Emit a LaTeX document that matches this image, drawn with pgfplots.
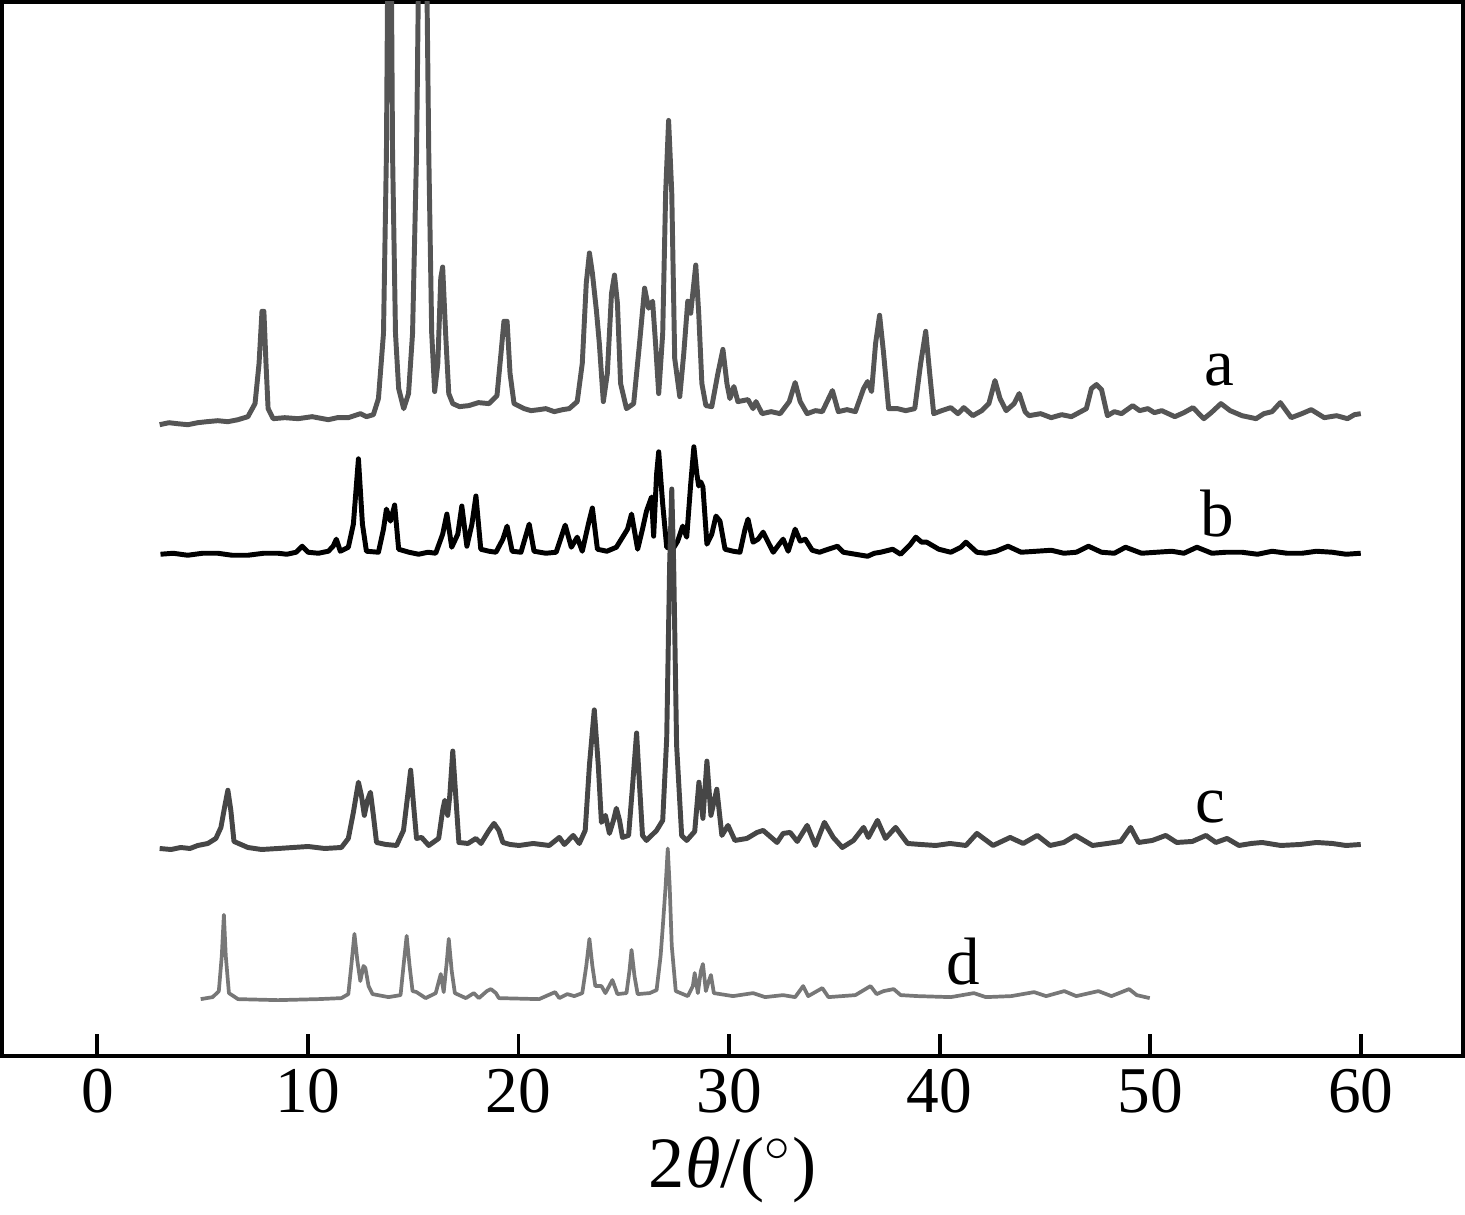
\documentclass[border=0pt]{standalone}
\usepackage{fontspec}
\setmainfont{Liberation Serif}
\usepackage{pgfplots}
\pgfplotsset{compat=1.18}
\definecolor{ca}{HTML}{555555}
\definecolor{cb}{HTML}{000000}
\definecolor{cc}{HTML}{464646}
\definecolor{cd}{HTML}{777777}

\begin{document}
\begin{tikzpicture}
\begin{axis}[
    width=14.55cm, height=10.5cm, scale only axis,
    xmin=-4.53, xmax=64.86, ymin=0, ymax=1050,
    xtick={0,10,...,60}, ytick=\empty,
    xtick pos=bottom, tick align=inside,
    major tick length=2.2mm,
    axis line style={line width=1.1pt},
    every tick/.style={black, line width=1.1pt},
    /pgf/number format/assume math mode=true,
    tick label style={font=\fontsize{18.5}{20}\selectfont},
    label style={font=\fontsize{20.5}{22}\selectfont},
    xlabel={2\textit{θ}/($^{\circ}$)},
    every axis plot/.append style={line join=round, mark=none},
]
% a
\addplot[ca, line width=1.4pt] coordinates {
(2.96,629)(3.4,631)(3.81,630)(4.3,629)(4.77,631)(5.2,632)(5.72,633)(6.2,632)(6.68,634)(7.15,637)(7.49,650)(7.68,690)
(7.82,742)(7.91,742)(8.01,690)(8.11,645)(8.35,635)(8.9,636)(9.54,635)(10.2,637)(10.97,634)(11.4,636)(11.92,636)
(12.49,640)(12.78,637)(13.11,639)(13.35,655)(13.59,720)(13.73,900)(13.88,1350)
(14.02,900)(14.16,720)(14.31,665)(14.55,645)(14.78,660)(14.97,720)(15.16,900)
(15.45,1450)(15.74,900)(15.88,720)(16.02,662)(16.17,690)(16.31,775)(16.40,786)
(16.54,720)(16.69,660)(16.88,650)(17.2,647)(17.64,648)(18.1,651)(18.60,650)(18.98,658)(19.17,700)
(19.31,732)(19.46,732)(19.60,680)(19.79,650)(20.27,645)(20.6,643)(20.98,644)(21.3,645)(21.70,642)
(22.1,644)(22.41,645)(22.79,652)(23.03,690)(23.22,770)(23.37,800)(23.51,780)(23.70,743)
(23.84,710)(24.03,652)(24.22,680)(24.42,760)(24.56,778)(24.70,750)(24.85,670)
(25.13,645)(25.47,650)(25.75,710)(25.99,765)(26.18,745)(26.37,752)(26.51,710)
(26.66,660)(26.85,720)(26.99,860)(27.13,932)(27.28,860)(27.42,695)(27.66,657)
(27.85,700)(28.04,752)(28.18,740)(28.28,760)(28.42,788)(28.56,740)(28.71,670)
(28.90,648)(29.18,647)(29.47,680)(29.71,704)(29.90,670)(30.04,655)(30.23,667)
(30.42,652)(30.90,654)(31.14,645)(31.28,652)(31.57,640)(32.0,642)(32.43,640)(32.86,652)
(33.14,671)(33.38,652)(33.71,640)(34.1,643)(34.43,642)(34.91,663)(35.19,642)(35.6,644)(36.00,642)
(36.39,665)(36.58,672)(36.77,662)(36.96,710)(37.15,738)(37.34,700)(37.58,645)
(38.0,645)(38.39,643)(38.82,645)(39.10,690)(39.34,722)(39.53,680)(39.72,640)(40.1,643)(40.53,646)
(40.87,640)(41.15,646)(41.58,638)(42.0,643)(42.34,650)(42.63,673)(42.87,655)(43.16,643)
(43.54,650)(43.78,660)(44.06,642)(44.25,638)(44.8,640)(45.30,636)(45.8,639)(46.26,637)(46.97,645)
(47.21,665)(47.45,669)(47.69,664)(47.97,638)(48.3,642)(48.64,640)(49.17,648)(49.5,643)(49.89,645)
(50.2,641)(50.55,643)(51.17,637)(51.6,641)(52.03,646)(52.55,635)(52.9,641)(53.36,650)(53.8,643)(54.36,638)(55.03,635)
(55.4,640)(55.79,642)(56.18,651)(56.70,636)(57.2,640)(57.65,644)(58.27,636)(58.85,638)(59.37,635)(59.7,639)
(60.00,640)
};
% b
\addplot[cb, line width=1.4pt] coordinates {
(3.00,500)(3.6,501)(4.29,499)(5.0,501)(5.72,501)(6.4,499)(7.15,499)(7.9,501)(8.58,501)(9.0,500)(9.44,502)(9.73,508)(10.01,502)
(10.5,501)(10.97,503)(11.20,508)(11.35,515)(11.54,503)(11.92,507)(12.16,530)(12.40,595)
(12.59,530)(12.78,503)(13.35,502)(13.59,525)(13.73,545)(13.92,533)(14.12,549)
(14.31,505)(14.8,502)(15.26,500)(15.7,502)(16.07,501)(16.40,520)(16.60,540)(16.83,507)(17.12,520)
(17.31,548)(17.55,508)(17.79,530)(17.98,558)(18.21,505)(18.6,503)(18.93,502)(19.26,515)
(19.46,528)(19.70,503)(20.12,502)(20.51,530)(20.74,503)(21.3,501)(21.79,502)(22.22,529)
(22.51,507)(22.79,517)(23.03,503)(23.32,530)(23.51,546)(23.75,505)(24.2,503)(24.65,507)
(25.18,525)(25.37,540)(25.66,505)(25.89,525)(26.08,543)(26.32,557)(26.42,518)
(26.56,580)(26.66,602)(26.85,550)(27.04,507)(27.33,505)(27.56,513)(27.80,528)
(27.99,517)(28.18,570)(28.33,607)(28.47,580)(28.56,568)(28.66,572)(28.76,567)
(28.95,510)(29.18,520)(29.38,538)(29.57,533)(29.81,505)(30.2,503)(30.52,502)(30.76,525)
(30.90,535)(31.14,512)(31.38,515)(31.62,522)(32.10,502)(32.38,510)(32.57,515)
(32.81,503)(33.14,525)(33.38,513)(33.62,515)(33.95,504)(34.3,502)(34.57,504)(35.15,508)
(35.43,502)(36.0,500)(36.58,498)(36.9,501)(37.20,502)(37.77,505)(38.15,500)(38.62,510)(38.87,517)
(39.15,512)(39.39,512)(39.96,505)(40.53,502)(41.01,507)(41.25,512)(41.77,502)
(42.2,501)(42.68,503)(43.25,508)(43.87,502)(44.6,503)(45.30,504)(45.9,501)(46.49,502)(47.07,508)(47.69,502)
(48.3,501)(48.83,507)(49.59,501)(50.3,502)(51.03,503)(51.6,501)(52.22,507)(52.93,501)(53.6,502)(54.36,502)(55.1,500)(55.79,503)
(56.5,501)(57.22,501)(57.9,503)(58.65,502)(59.3,500)(60.00,501)
};
% c
\addplot[cc, line width=1.4pt] coordinates {
(2.96,207)(3.5,206)(3.96,208)(4.4,207)(4.77,210)(5.25,212)(5.63,217)(5.87,228)(6.06,250)(6.20,265)
(6.34,245)(6.49,214)(7.15,208)(7.8,206)(8.58,207)(9.3,208)(10.01,209)(10.8,207)(11.59,208)(11.92,217)
(12.16,243)(12.40,273)(12.54,260)(12.68,240)(12.83,255)(12.97,263)(13.11,240)
(13.26,213)(13.7,211)(14.21,210)(14.54,225)(14.74,260)(14.88,285)(15.02,250)(15.16,217)
(15.40,218)(15.74,210)(16.21,217)(16.40,245)(16.50,255)(16.64,240)(16.74,260)
(16.88,304)(17.02,260)(17.17,213)(17.6,212)(17.98,217)(18.22,212)(18.60,225)(18.84,232)
(19.07,225)(19.26,213)(19.6,211)(20.03,210)(20.7,212)(21.46,210)(21.94,218)(22.18,211)(22.60,220)
(22.89,212)(23.17,225)(23.37,290)(23.60,345)(23.79,290)(23.94,233)(24.13,240)
(24.32,222)(24.51,235)(24.65,247)(24.80,235)(24.94,218)(25.23,220)(25.42,270)
(25.61,322)(25.75,270)(25.89,220)(26.08,215)(26.56,225)(26.85,235)(27.04,317)
(27.18,490)(27.28,565)(27.37,490)(27.51,310)(27.75,220)(27.99,215)(28.37,224)
(28.57,273)(28.76,237)(28.95,294)(29.14,240)(29.42,266)(29.66,220)(29.95,230)
(30.28,215)(30.85,217)(31.33,223)(31.62,225)(32.28,213)(32.57,222)(32.90,223)
(33.24,214)(33.71,230)(34.10,210)(34.53,233)(34.95,218)(35.38,208)(35.91,215)
(36.39,228)(36.62,218)(37.05,235)(37.43,217)(37.91,228)(38.48,212)(39.1,211)(39.82,210)
(40.5,212)(41.25,210)(41.77,222)(42.54,210)(43.35,218)(43.97,212)(44.64,220)(45.25,210)
(45.9,213)(46.45,220)(47.26,210)(47.97,212)(48.6,214)(49.07,228)(49.45,213)(50.1,215)(50.74,220)(51.26,213)
(52.0,214)(52.65,220)(53.12,213)(53.65,217)(54.22,210)(54.8,212)(55.32,213)(56.2,210)(57.13,211)(57.9,213)(58.65,212)(59.3,210)
(60.00,211)
};
% d
\addplot[cd, line width=1.05pt] coordinates {
(4.91,57)(5.48,59)(5.77,65)(5.91,100)(6.01,141)(6.10,100)(6.25,63)(6.68,57)
(8.58,56)(10.49,57)(11.59,58)(11.92,62)(12.06,90)(12.21,122)(12.35,95)(12.49,75)
(12.64,90)(12.73,88)(12.88,70)(13.07,62)(13.83,59)(14.40,61)(14.54,90)(14.69,120)
(14.83,90)(14.97,65)(15.16,64)(15.59,58)(16.07,63)(16.31,82)(16.45,64)(16.60,95)
(16.69,117)(16.83,85)(16.98,63)(17.50,58)(17.88,63)(18.12,58)(18.50,65)(18.69,67)
(18.93,63)(19.07,58)(20.98,57)(21.74,64)(21.94,58)(22.32,62)(22.65,60)(23.03,63)
(23.22,90)(23.37,117)(23.51,90)(23.65,70)(23.94,70)(24.13,63)(24.46,76)(24.70,62)
(25.13,63)(25.27,85)(25.37,106)(25.51,80)(25.66,62)(26.23,63)(26.56,66)(26.75,100)
(26.85,128)(26.99,170)(27.09,207)(27.18,170)(27.28,110)(27.47,65)(28.04,60)
(28.28,70)(28.37,83)(28.52,63)(28.66,85)(28.76,92)(28.90,65)(29.04,75)(29.14,81)
(29.28,63)(30.19,60)(31.14,63)(31.71,59)(32.57,61)(33.14,59)(33.52,70)(33.76,60)
(34.43,68)(34.72,59)(36.00,61)(36.72,70)(37.01,62)(37.34,65)(37.82,67)(38.15,61)
(38.96,60)(40.53,59)(41.63,63)(42.20,59)(43.40,60)(44.49,64)(45.06,60)(45.92,65)
(46.49,60)(47.54,65)(48.16,60)(49.00,67)(49.36,61)(49.98,58)
};
\node[anchor=base, font=\fontsize{19}{20}\selectfont] at (axis cs:53.31,668) {a};
\node[anchor=base, font=\fontsize{19}{20}\selectfont] at (axis cs:53.17,518) {b};
\node[anchor=base, font=\fontsize{19}{20}\selectfont] at (axis cs:52.84,233) {c};
\node[anchor=base, font=\fontsize{19}{20}\selectfont] at (axis cs:41.10,72) {d};
\end{axis}
\end{tikzpicture}
\end{document}
